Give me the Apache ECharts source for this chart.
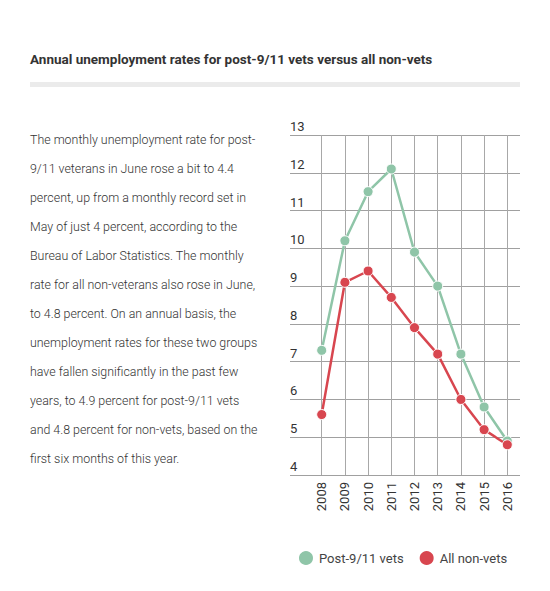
<!DOCTYPE html>
<html>
<head>
<meta charset="utf-8">
<script src="https://cdn.jsdelivr.net/npm/echarts@6/dist/echarts.min.js"></script>
<style>
  html, body { margin: 0; padding: 0; background: #fff; }
  #chart { width: 550px; height: 591px; }
</style>
</head>
<body>
<div id="chart"></div>
<script>
// data
const years = ['2008', '2009', '2010', '2011', '2012', '2013', '2014', '2015', '2016'];
const postVets = [7.3, 10.2, 11.5, 12.1, 9.9, 9.0, 7.2, 5.8, 4.9];
const nonVets = [5.6, 9.1, 9.4, 8.7, 7.9, 7.2, 6.0, 5.2, 4.8];
const yTicks = { min: 4, max: 13, step: 1 };

const titleText = 'Annual unemployment rates for post-9/11 vets versus all non-vets';
const blurbLines = [
  'The monthly unemployment rate for post-',
  '9/11 veterans in June rose a bit to 4.4',
  'percent, up from a monthly record set in',
  'May of just 4 percent, according to the',
  'Bureau of Labor Statistics. The monthly',
  'rate for all non-veterans also rose in June,',
  'to 4.8 percent. On an annual basis, the',
  'unemployment rates for these two groups',
  'have fallen significantly in the past few',
  'years, to 4.9 percent for post-9/11 vets',
  'and 4.8 percent for non-vets, based on the',
  'first six months of this year.'
];

const GREEN = '#8fc5a8';
const RED = '#d8464f';
const FONT = 'Roboto, sans-serif';

const chart = echarts.init(document.getElementById('chart'), null, { renderer: 'svg' });

const gridTop = 135, gridBottom = 116;

const option = {
  backgroundColor: '#fff',
  textStyle: { fontFamily: FONT },
  title: {
    text: titleText,
    left: 30,
    top: 52,
    padding: 0,
    textStyle: { fontFamily: FONT, fontSize: 13.5, fontWeight: 'bold', color: '#333' }
  },
  graphic: [
    { type: 'rect', left: 30, top: 82, shape: { width: 490, height: 5 }, style: { fill: '#ebebeb' } },
    {
      type: 'text', left: 30, top: 125,
      style: {
        text: blurbLines.join('\n'),
        font: '300 12.4px Roboto, sans-serif',
        lineHeight: 29,
        fill: '#333'
      }
    }
  ],
  legend: {
    left: 292,
    top: 544,
    icon: 'circle',
    itemWidth: 16,
    itemHeight: 16,
    itemGap: 14,
    textStyle: { fontFamily: FONT, fontSize: 13, color: '#444' },
    data: ['Post-9/11 vets', 'All non-vets']
  },
  grid: [
    { left: 321.7, right: 42.7, top: gridTop, bottom: gridBottom },
    { left: 290, right: 30, top: gridTop, bottom: gridBottom }
  ],
  xAxis: [
    {
      type: 'category', gridIndex: 0, data: years, boundaryGap: false,
      axisLine: { show: false }, axisTick: { show: false },
      axisLabel: { rotate: 90, margin: 7, fontSize: 13, color: '#333', fontFamily: FONT },
      splitLine: { show: true, lineStyle: { color: '#a8a8a8', width: 1 } }
    },
    { type: 'value', gridIndex: 1, show: false, min: 0, max: 1 }
  ],
  yAxis: [
    { type: 'value', gridIndex: 0, min: yTicks.min, max: yTicks.max, interval: yTicks.step, show: false },
    {
      type: 'value', gridIndex: 1, min: yTicks.min, max: yTicks.max, interval: yTicks.step,
      axisLine: { show: false }, axisTick: { show: false },
      axisLabel: {
        inside: true, margin: 0, verticalAlign: 'bottom', padding: [0, 0, 2, 0],
        fontSize: 13, color: '#333', fontFamily: FONT
      },
      splitLine: { show: true, lineStyle: { color: '#a0a0a0', width: 1 } }
    }
  ],
  series: [
    {
      name: 'Post-9/11 vets', type: 'line', data: postVets, xAxisIndex: 0, yAxisIndex: 0,
      symbol: 'circle', symbolSize: 10,
      lineStyle: { color: GREEN, width: 2.5 },
      itemStyle: { color: GREEN, borderColor: '#fff', borderWidth: 1 },
      z: 3
    },
    {
      name: 'All non-vets', type: 'line', data: nonVets, xAxisIndex: 0, yAxisIndex: 0,
      symbol: 'circle', symbolSize: 10,
      lineStyle: { color: RED, width: 2.5 },
      itemStyle: { color: RED, borderColor: '#fff', borderWidth: 1 },
      z: 4
    }
  ]
};

chart.setOption(option);
</script>
</body>
</html>
